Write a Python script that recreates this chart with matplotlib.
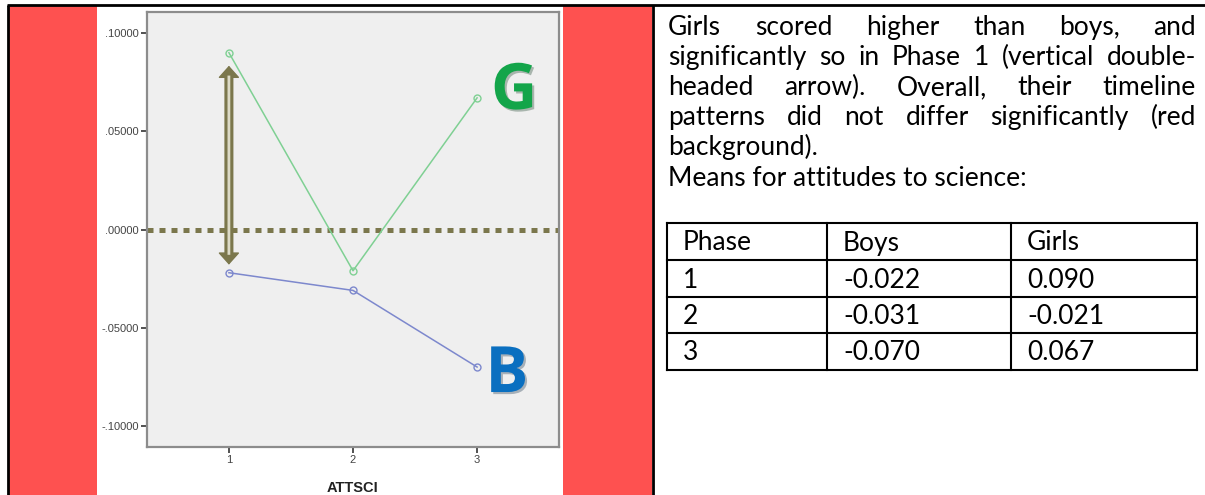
import matplotlib
matplotlib.use('Agg')
import matplotlib.pyplot as plt
import matplotlib.patheffects as pe
from matplotlib.patches import Rectangle, FancyArrowPatch
from matplotlib.ticker import FuncFormatter

# ---------------- data ----------------
phases = [1, 2, 3]
boys = [-0.022, -0.031, -0.070]
girls = [0.090, -0.021, 0.067]
y_ticks = [-0.10, -0.05, 0.0, 0.05, 0.10]
x_label = 'ATTSCI'

para_lines = [
    "Girls scored higher than boys, and",
    "significantly so in Phase 1 (vertical double-",
    "headed arrow). Overall, their timeline",
    "patterns did not differ significantly (red",
    "background).",
    "Means for attitudes to science:",
]
justified = [True, True, True, True, False, False]
table_header = ['Phase', 'Boys', 'Girls']

# ---------------- style ----------------
RED = '#fe5150'
OLIVE = '#7b774c'
LIGHT = '#dcdac6'
GREEN = '#7fd093'
BLUE = '#7d88cd'
TXT_FONT = 'Lato'
W, H = 1205, 495

fig = plt.figure(figsize=(W / 100, H / 100), dpi=100)
r = fig.canvas.get_renderer()

# page layer, pixel coordinates (y down)
page = fig.add_axes([0, 0, 1, 1])
page.set_xlim(0, W)
page.set_ylim(H, 0)
page.axis('off')

page.add_patch(Rectangle((9, 6), 88, H, color=RED, lw=0))
page.add_patch(Rectangle((563, 6), 89, H, color=RED, lw=0))
kw = dict(color='k', solid_capstyle='butt')
page.plot([7, W], [5, 5], lw=2, **kw)
page.plot([8, 8], [5, H], lw=2, **kw)
page.plot([652.5, 652.5], [5, H], lw=2, **kw)

# ---------------- chart ----------------
ax = fig.add_axes([147 / W, (H - 447) / H, (559 - 147) / W, (447 - 12) / H])
ax.set_facecolor('#efefef')
ax.set_xlim(0.34, 3.66)
ax.set_ylim(-0.1107, 0.1107)

ax.axhline(0, color=OLIVE, lw=3.6, ls=(0, (1.2, 1.2)), dash_capstyle='butt', zorder=2)
ax.plot(phases, girls, color=GREEN, lw=1.1, marker='o', ms=5, mfc='none', mew=1, zorder=3)
ax.plot(phases, boys, color=BLUE, lw=1.1, marker='o', ms=5, mfc='none', mew=1, zorder=3)

# double-headed arrow between the phase-1 means
pA = (phases[0], boys[0])
pB = (phases[0], girls[0])
gapA, gapB, head = 5.8, 9.4, 7.6
heads = FancyArrowPatch(pA, pB, arrowstyle='<|-|>,head_length=0.76,head_width=0.68',
                        mutation_scale=10, shrinkA=gapA, shrinkB=gapB,
                        color=OLIVE, lw=1, zorder=4)
ax.add_patch(heads)
for lw, c, d in [(6.5, OLIVE, 0.5), (2.0, LIGHT, 0.0)]:
    ax.add_patch(FancyArrowPatch(pA, pB, arrowstyle='-', mutation_scale=10,
                                 shrinkA=gapA + head - 0.5 + d, shrinkB=gapB + head - 0.5 + d,
                                 color=c, lw=lw, zorder=5, capstyle='butt'))

shadow = [pe.SimplePatchShadow(offset=(1.5, -1.5), alpha=0.3), pe.Normal()]
ax.annotate('G', xy=(phases[2], girls[2]), xytext=(10, -8), textcoords='offset points',
            fontsize=46, fontweight='bold', family='Open Sans', color='#13a54a',
            ha='left', va='baseline', path_effects=shadow)
ax.annotate('B', xy=(phases[2], boys[2]), xytext=(6, -18), textcoords='offset points',
            fontsize=46, fontweight='bold', family='Open Sans', color='#0a6fc0',
            ha='left', va='baseline', path_effects=shadow)

ax.set_xticks(phases)
ax.set_yticks(y_ticks)
ax.yaxis.set_major_formatter(FuncFormatter(
    lambda v, p: ('-' if v < -1e-9 else '') + f'{abs(v):.5f}'[1:]))
ax.tick_params(direction='out', length=4, width=1.2, color='#333333',
               labelsize=8, labelcolor='#444444', pad=2)
for lab in ax.get_xticklabels() + ax.get_yticklabels():
    lab.set_family('Liberation Sans')
for s in ax.spines.values():
    s.set_color('#8c8c8c')
    s.set_linewidth(1.6)

ax.set_xlabel(x_label, fontsize=10.5, fontweight='bold', family='Liberation Sans', color='#222222')
ax.xaxis.set_label_coords(0.5, -(492 - 447) / 435)
ax.xaxis.label.set_va('baseline')

# ---------------- right text panel ----------------
def text_w(s, size):
    t = page.text(0, 0, s, fontsize=size, family=TXT_FONT)
    w = t.get_window_extent(r).width
    t.remove()
    return w

left, right = 668, 1196
# font size: compromise between the reference line widths and glyph height
fs = 10 * 358 / text_w(para_lines[5], 10)
base0, step = 35, 30.1
for i, line in enumerate(para_lines):
    y = base0 + i * step
    words = line.split()
    if justified[i] and len(words) > 1:
        ws = [text_w(w, fs) for w in words]
        gap = (right - left - sum(ws)) / (len(words) - 1)
        x = left
        for w, wd in zip(words, ws):
            page.text(x, y, w, fontsize=fs, family=TXT_FONT, va='baseline', ha='left')
            x += wd + gap
    else:
        page.text(left, y, line, fontsize=fs, family=TXT_FONT, va='baseline', ha='left')

# table
col_x = [667, 827, 1011, 1197]
row_y = [223, 260, 297, 333, 370]
for x in col_x:
    page.plot([x, x], [row_y[0], row_y[-1]], color='k', lw=1.5, solid_capstyle='projecting')
for y in row_y:
    page.plot([col_x[0], col_x[-1]], [y, y], color='k', lw=1.5, solid_capstyle='projecting')

rows = [table_header] + [[str(p), f'{b:.3f}', f'{g:.3f}'] for p, b, g in zip(phases, boys, girls)]
for ri, row in enumerate(rows):
    for ci, cell in enumerate(row):
        page.text(col_x[ci] + 16, row_y[ri] + 27.5, cell, fontsize=fs, family=TXT_FONT,
                  va='baseline', ha='left')

fig.savefig('out.png', dpi=100)
